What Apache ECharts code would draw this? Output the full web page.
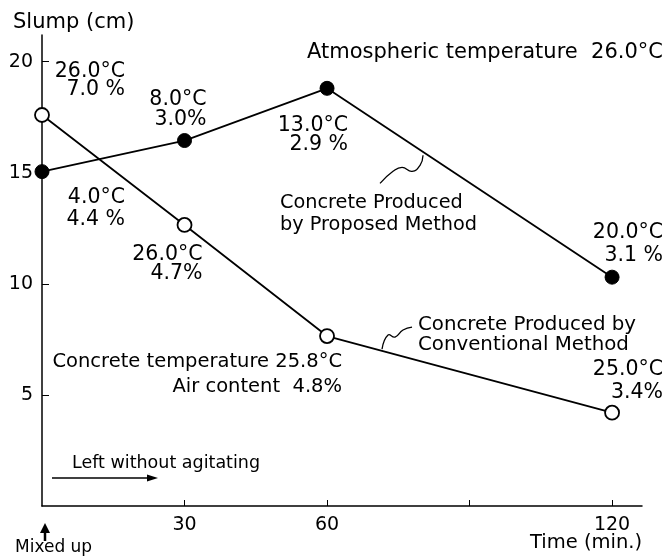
<!DOCTYPE html>
<html>
<head>
<meta charset="utf-8">
<script src="https://cdn.jsdelivr.net/npm/echarts/dist/echarts.min.js"></script>
<style>
  html, body { margin: 0; padding: 0; background: #fff; }
  #chart { width: 671px; height: 556px; }
</style>
</head>
<body>
<div id="chart"></div>
<script>
// time after mixing (min.)
var times = [0, 30, 60, 120];
// slump (cm)
var proposedSlump = [15.05, 16.45, 18.8, 10.3];
var conventionalSlump = [17.6, 12.65, 7.65, 4.2];
// concrete temperature / air content at each point
var proposedNotes = ["4.0°C\n4.4 %", "8.0°C\n3.0%", "13.0°C\n2.9 %", "20.0°C\n3.1 %"];
var conventionalNotes = ["26.0°C\n7.0 %", "26.0°C\n4.7%", "Concrete temperature 25.8°C\nAir content  4.8%", "25.0°C\n3.4%"];
var yTicks = [5, 10, 15, 20];
var xTicks = [30, 60, 90, 120];
var xLabels = [30, 60, 120];

var FONT = "DejaVu Sans";
var chart = echarts.init(document.getElementById("chart"));

function pairs(ys) {
  return times.map(function (t, i) { return [t, ys[i]]; });
}

var option = {
  backgroundColor: "#fff",
  animation: false,
  grid: { left: 42, right: 29, top: 35, bottom: 50 },
  xAxis: {
    type: "value",
    min: 0,
    max: 126.3,
    axisLine: { lineStyle: { color: "#000", width: 1.5 } },
    axisTick: { inside: true, length: 6, customValues: xTicks, lineStyle: { color: "#000" } },
    axisLabel: { customValues: xLabels, color: "#000", fontSize: 19, fontFamily: FONT, margin: 10 },
    splitLine: { show: false }
  },
  yAxis: {
    type: "value",
    min: 0,
    max: 21.2,
    axisLine: { show: true, lineStyle: { color: "#000", width: 1.5 } },
    axisTick: { show: true, inside: true, length: 7, customValues: yTicks, lineStyle: { color: "#000" } },
    axisLabel: { customValues: yTicks, color: "#000", fontSize: 19, fontFamily: FONT, margin: 9 },
    splitLine: { show: false }
  },
  series: [
    {
      name: "Concrete Produced by Proposed Method",
      type: "line",
      data: pairs(proposedSlump),
      symbol: "circle",
      symbolSize: 14,
      lineStyle: { color: "#000", width: 1.8 },
      itemStyle: { color: "#000", borderColor: "#000" },
      z: 3
    },
    {
      name: "Concrete Produced by Conventional Method",
      type: "line",
      data: pairs(conventionalSlump),
      symbol: "circle",
      symbolSize: 14,
      lineStyle: { color: "#000", width: 1.8 },
      itemStyle: { color: "#fff", borderColor: "#000", borderWidth: 1.8 },
      z: 4
    }
  ]
};

chart.setOption(option);

function px(x, y) {
  return chart.convertToPixel({ gridIndex: 0 }, [x, y]);
}

// cy = centre of the first line
function text(str, x, cy, size, align, lh) {
  lh = lh || Math.round(size * 1.1);
  return {
    type: "text",
    x: x,
    y: cy - lh / 2,
    silent: true,
    style: {
      text: str,
      fill: "#000",
      font: size + "px '" + FONT + "'",
      align: align || "left",
      verticalAlign: "top",
      lineHeight: lh
    }
  };
}

// note placement relative to its point: [dx of right edge, dy of first line centre, line height, font size]
var propOff = [[83, 26, 22, 20.5], [22, -41, 20, 20.5], [21, 37, 19, 20.5], [51, -44, 23, 20.5]];
var convOff = [[83, -43, 18, 20.5], [18, 30, 19, 20.5], [15, 26, 25, 19.5], [51, -43, 23, 20.5]];

var g = [];
times.forEach(function (t, i) {
  var p = px(t, proposedSlump[i]);
  var a = propOff[i];
  g.push(text(proposedNotes[i], p[0] + a[0], p[1] + a[1], a[3], "right", a[2]));
  var c = px(t, conventionalSlump[i]);
  var b = convOff[i];
  g.push(text(conventionalNotes[i], c[0] + b[0], c[1] + b[1], b[3], "right", b[2]));
});

var origin = px(0, 0);
var p60 = px(60, proposedSlump[2]);
var c60 = px(60, conventionalSlump[2]);

g.push(text("Slump (cm)", 13, 23, 21));
g.push(text("Atmospheric temperature  26.0°C", 307, 53, 21));
g.push(text("Concrete Produced\nby Proposed Method", p60[0] - 47, p60[1] + 115, 19.3, "left", 22));
g.push(text("Concrete Produced by\nConventional Method", c60[0] + 91, c60[1] - 11, 19.8, "left", 20));
g.push(text("Left without agitating", origin[0] + 30, origin[1] - 43, 17.5));
g.push(text("Mixed up", 15, 548, 17));
g.push(text("Time (min.)", 530, 543, 19.5));

// leader from the proposed line
g.push({
  type: "polyline", silent: true,
  shape: { points: [[p60[0] + 96, p60[1] + 67], [p60[0] + 93, p60[1] + 77], [p60[0] + 85, p60[1] + 83], [p60[0] + 75, p60[1] + 79], [p60[0] + 66, p60[1] + 83], [p60[0] + 53, p60[1] + 95]], smooth: 0.5 },
  style: { stroke: "#000", lineWidth: 1.3, fill: null }
});
// leader from the conventional line
g.push({
  type: "polyline", silent: true,
  shape: { points: [[c60[0] + 55, c60[1] + 13], [c60[0] + 61, c60[1] - 1], [c60[0] + 68, c60[1] + 1], [c60[0] + 76, c60[1] - 6], [c60[0] + 85, c60[1] - 9]], smooth: 0.5 },
  style: { stroke: "#000", lineWidth: 1.3, fill: null }
});

// "left without agitating" arrow
var ay = origin[1] - 28;
g.push({ type: "line", silent: true, shape: { x1: origin[0] + 10, y1: ay, x2: origin[0] + 110, y2: ay }, style: { stroke: "#000", lineWidth: 1.6 } });
g.push({ type: "polygon", silent: true, shape: { points: [[origin[0] + 116, ay], [origin[0] + 105, ay - 3.5], [origin[0] + 105, ay + 3.5]] }, style: { fill: "#000" } });

// "mixed up" arrow
g.push({ type: "line", silent: true, shape: { x1: origin[0] + 3, y1: origin[1] + 35, x2: origin[0] + 3, y2: origin[1] + 24 }, style: { stroke: "#000", lineWidth: 2.5 } });
g.push({ type: "polygon", silent: true, shape: { points: [[origin[0] + 3, origin[1] + 17], [origin[0] - 2, origin[1] + 27], [origin[0] + 8, origin[1] + 27]] }, style: { fill: "#000" } });

chart.setOption({ graphic: g });
</script>
</body>
</html>
